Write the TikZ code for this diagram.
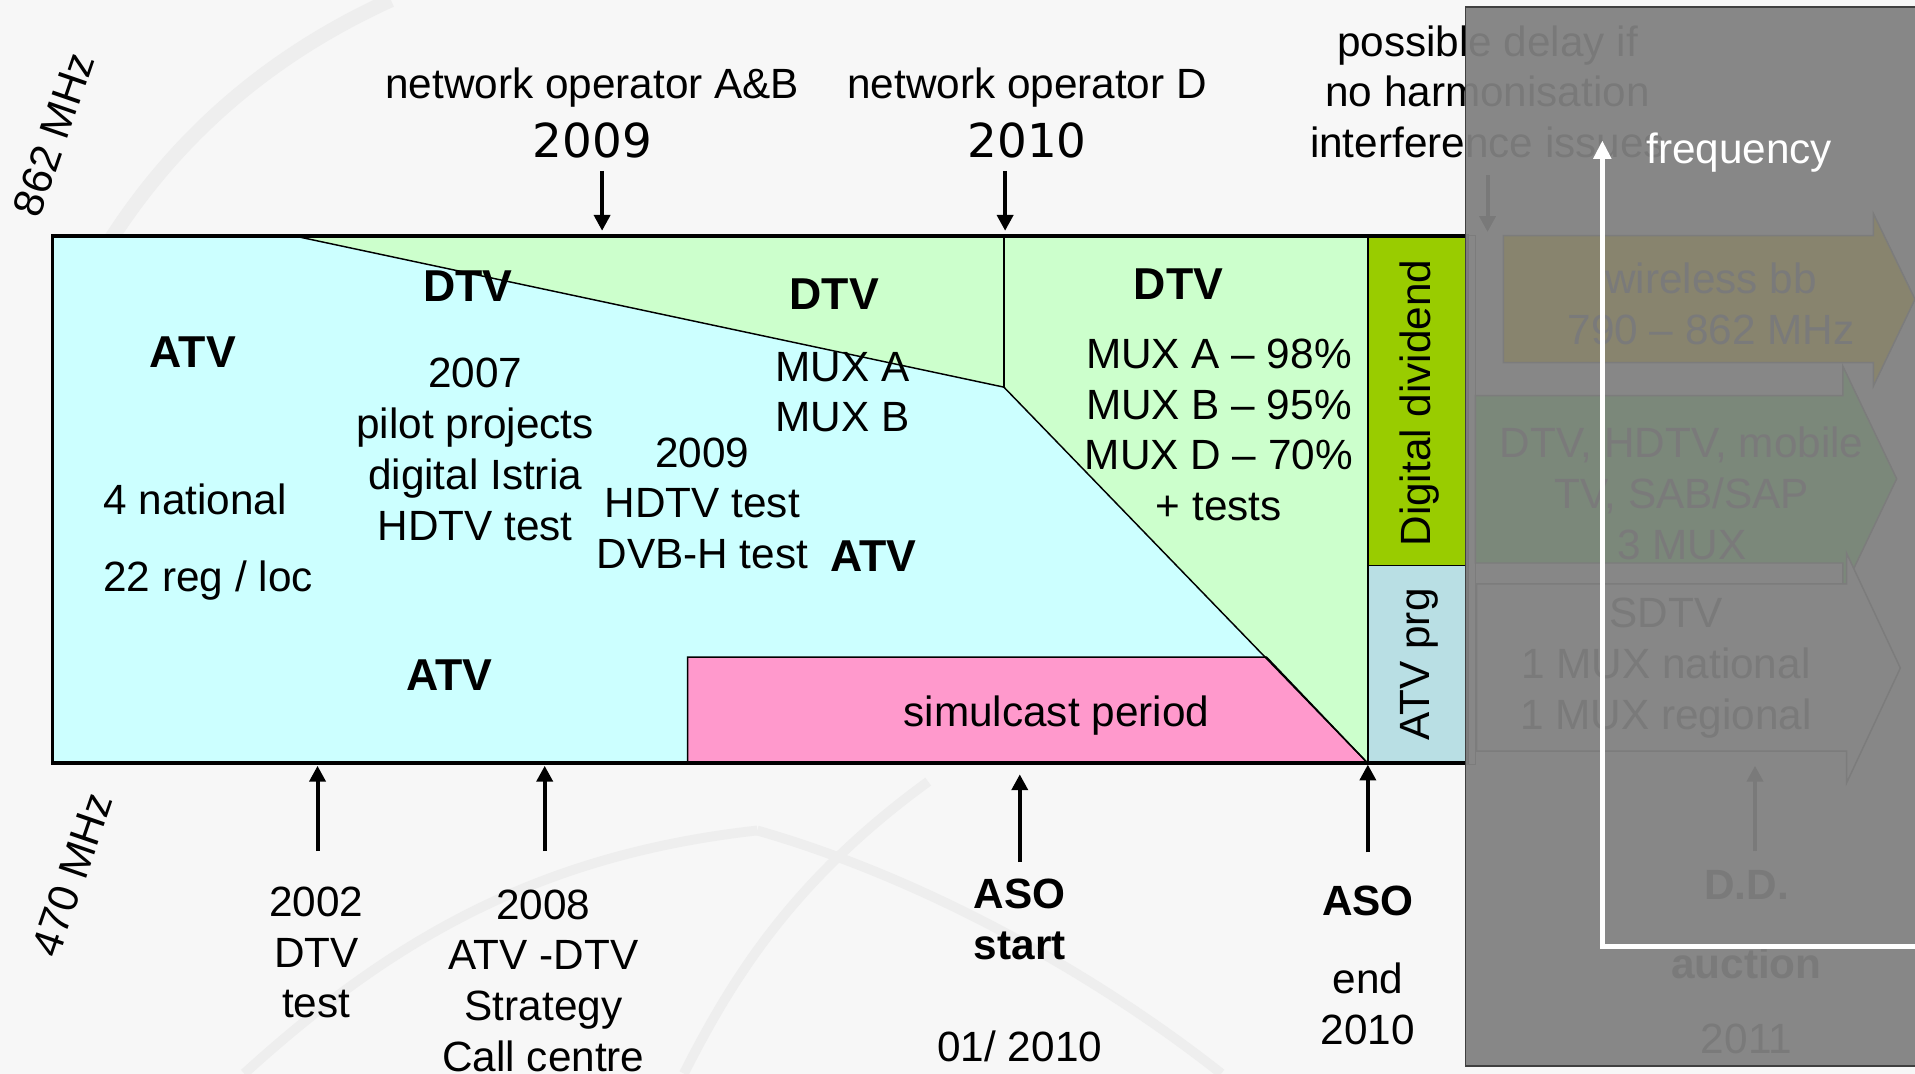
\documentclass[tikz,border=0pt]{standalone}
\usepackage{fontspec}
\setmainfont{Liberation Sans}
\newfontfamily\dvfont{DejaVu Sans}
\usetikzlibrary{arrows.meta}
\definecolor{atvc}{HTML}{CCFFFF}
\definecolor{dtvc}{HTML}{CCFFCC}
\definecolor{ddc}{HTML}{99CC00}
\definecolor{prgc}{HTML}{B9DFE4}
\definecolor{pinkc}{HTML}{FF99CC}
\definecolor{ovc}{HTML}{818181}
\definecolor{hidc}{HTML}{7A7A7A}
\definecolor{hidl}{HTML}{7C7C7C}
\definecolor{wbbc}{HTML}{88846E}
\definecolor{grnc}{HTML}{7B887A}
\definecolor{sdc}{HTML}{878787}
\definecolor{bgc}{HTML}{F7F7F7}
\definecolor{swc}{HTML}{EEEEEE}
\begin{document}
\begin{tikzpicture}[x=0.01cm,y=-0.01cm,
  lbl/.style={font=\fontsize{9.85}{11.8}\selectfont, align=center, inner sep=0pt},
  blbl/.style={font=\fontsize{10.4}{11.8}\selectfont\bfseries, align=center, inner sep=0pt},
  bblbl/.style={font=\fontsize{9.85}{11.8}\selectfont\bfseries, align=center, inner sep=0pt},
  dlbl/.style={font=\dvfont\fontsize{10.9}{12}\selectfont, inner sep=0pt},
  hlbl/.style={lbl, text=hidc},
  hblbl/.style={bblbl, text=hidc},
  arr/.style={line width=0.033cm, -{Triangle[length=0.13cm,width=0.13cm]}},
  thinl/.style={line width=0.012cm},
  swoosh/.style={draw=swc, line width=0.12cm},
  blockarr/.style={draw=hidl, line width=0.012cm}
]
\useasboundingbox (0,0) rectangle (1568,879);
\fill[bgc] (0,0) rectangle (1568,879);
% faint background swooshes
\draw[swoosh] (60,250) .. controls (120,130) and (210,50) .. (320,0);
\draw[swoosh, line width=0.08cm] (200,879) .. controls (320,770) and (440,700) .. (620,680);
\draw[swoosh, line width=0.08cm] (620,680) .. controls (760,720) and (900,800) .. (1000,879);
\draw[swoosh, line width=0.08cm] (560,879) .. controls (600,800) and (650,720) .. (760,640);

% ---- main chart ----
\fill[atvc] (43,193) rectangle (1120,625);
\fill[dtvc] (240,193) -- (1120,193) -- (1120,625) -- (822,317) -- cycle;
\fill[pinkc] (563,625) -- (563,538) -- (1037,538) -- (1120,625) -- cycle;
\draw[thinl] (563,625) -- (563,538) -- (1037,538) -- (1120,625);
\draw[thinl] (240,193) -- (822,317) -- (1120,625);
\draw[thinl] (822,193) -- (822,317);
\fill[ddc] (1120,193) rectangle (1201,463);
\fill[prgc] (1120,463) rectangle (1201,625);
\draw[line width=0.015cm] (1120,193) -- (1120,625) (1120,463) -- (1201,463);
\draw[line width=0.03cm] (43,193) rectangle (1201,625);

% texts inside chart
\node[blbl] (atv1) at (158,288) {ATV};
\node[lbl, anchor=west] (nat) at (84,409) {4 national};
\node[lbl, anchor=west] (reg) at (84,475) {22 reg / loc};
\node[blbl] (dtv1) at (383,234) {DTV};
\node[lbl] (pilot) at (389,368) {2007\\pilot projects\\digital Istria\\HDTV test};
\node[blbl] (dtv2) at (683,241) {DTV};
\node[lbl] (muxab) at (690,321) {MUX A\\MUX B};
\node[lbl] (hd09) at (575,412) {2009\\HDTV test\\DVB-H test};
\node[blbl] (atv2) at (715,455) {ATV};
\node[blbl] (atv3) at (368,553) {ATV};
\node[lbl] (sim) at (865,586) {simulcast period};
\node[blbl] (dtv3) at (965,233) {DTV};
\node[lbl] (muxp) at (998,352) {MUX A -- 98\%\\MUX B -- 95\%\\MUX D -- 70\%\\+ tests};
\node[lbl, rotate=90] (dd) at (1162,330) {Digital dividend};
\node[lbl, rotate=90] (prg) at (1162,544) {ATV prg};

% frequency labels
\node[lbl, rotate=71] (f862) at (44,110) {862 MHz};
\node[lbl, rotate=71] (f470) at (59,716) {470 MHz};

% top annotations
\node[lbl] (noab) at (485,72) {network operator A\&B};
\node[dlbl] (y09) at (485,115) {2009};
\coordinate (aab0) at (493,140); \coordinate (aab1) at (493,189);
\draw[arr] (aab0) -- (aab1);
\node[lbl] (nod) at (841,72) {network operator D};
\node[dlbl] (y10) at (841,115) {2010};
\coordinate (ad0) at (823,140); \coordinate (ad1) at (823,189);
\draw[arr] (ad0) -- (ad1);
\node[lbl] (delay) at (1218,75) {possible delay if\\no harmonisation\\interference issues};
\coordinate (adl0) at (1218,143); \coordinate (adl1) at (1218,190);
\draw[arr] (adl0) -- (adl1);

% bottom annotations
\coordinate (b1a) at (260,697); \coordinate (b1b) at (260,627);
\draw[arr] (b1a) -- (b1b);
\node[lbl] (t2002) at (259,780) {2002\\DTV\\test};
\coordinate (b2a) at (446,697); \coordinate (b2b) at (446,627);
\draw[arr] (b2a) -- (b2b);
\node[lbl] (t2008) at (445,803) {2008\\ATV -DTV\\Strategy\\Call centre};
\coordinate (b3a) at (835,706); \coordinate (b3b) at (835,634);
\draw[arr] (b3a) -- (b3b);
\node[bblbl] (asos) at (835,753) {ASO\\start};
\node[lbl] (d0110) at (835,857) {01/ 2010};
\coordinate (b4a) at (1120,698); \coordinate (b4b) at (1120,626);
\draw[arr] (b4a) -- (b4b);
\node[bblbl] (asoe) at (1120,738) {ASO};
\node[lbl] (end10) at (1120,822) {end\\2010};

% ---- grey overlay ----
\fill[ovc, opacity=0.943] (1200,5.5) rectangle (1580,873);
\draw[black!75, line width=0.015cm] (1580,5.5) -- (1200,5.5) -- (1200,873) -- (1580,873);

% content beneath the overlay
\draw[hidl, thinl] (1201,193) rectangle (1208,626);
\path[blockarr, fill=wbbc] (1231,193) -- (1534,193) -- (1534,175) -- (1568,245) -- (1534,316) -- (1534,297) -- (1231,297) -- cycle;
\path[blockarr, fill=grnc] (1208,324) -- (1509,324) -- (1509,300) -- (1553,392) -- (1509,484) -- (1509,461) -- (1208,461) -- cycle;
\path[blockarr, fill=sdc] (1209,478) -- (1512,478) -- (1512,453) -- (1556,547) -- (1512,641) -- (1512,615) -- (1209,615) -- cycle;
\node[hlbl] (wbb) at (1401,249) {wireless bb\\790 -- 862 MHz};
\node[hlbl] (dtvm) at (1377,404) {DTV, HDTV, mobile\\TV, SAB/SAP\\3 MUX};
\node[hlbl] (sdtv) at (1364,547) {SDTV\\1 MUX national\\1 MUX regional};
\coordinate (bda) at (1437,697); \coordinate (bdb) at (1437,627);
\draw[arr, draw=hidc, fill=hidc] (bda) -- (bdb);
\node[hblbl] (ddl) at (1430,725) {D.D.};
\node[hblbl] (auc) at (1430,789) {auction};
\node[hlbl] (y11) at (1430,851) {2011};

% white axis
\coordinate (ax0) at (1312,775); \coordinate (axt) at (1312,115); \coordinate (axr) at (1575,775);
\draw[white, line width=0.04cm, -{Triangle[length=0.15cm,width=0.14cm]}] (ax0) -- (axt);
\draw[white, line width=0.04cm] (1310,775) -- (axr);
\node[lbl, text=white] (freq) at (1424,125) {frequency};
\end{tikzpicture}
\end{document}
